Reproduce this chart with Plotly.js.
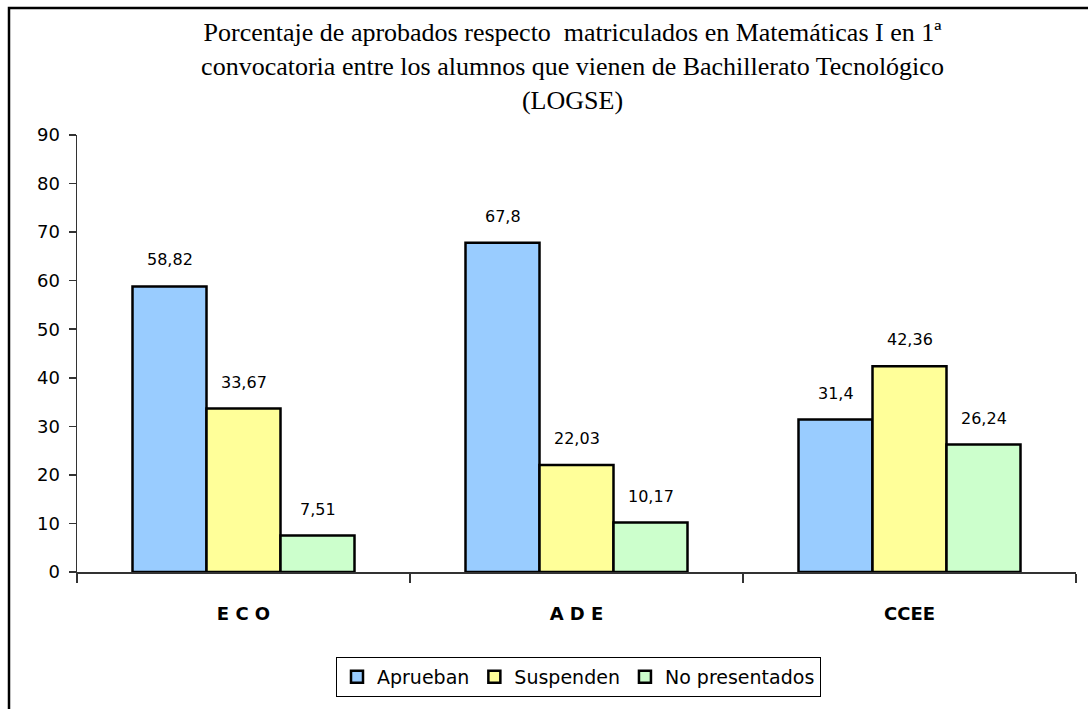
<!DOCTYPE html>
<html>
<head>
<meta charset="utf-8">
<script src="https://cdn.plot.ly/plotly-3.0.1.min.js"></script>
<style>html,body{margin:0;padding:0;background:#fff;}#chart{width:1088px;height:709px;}</style>
</head>
<body>
<div id="chart"></div>
<script>
var categories = ["E C O", "A D E", "CCEE"];
var seriesNames = ["Aprueban", "Suspenden", "No presentados"];
var aprueban = [58.82, 67.8, 31.4];
var suspenden = [33.67, 22.03, 42.36];
var noPresentados = [7.51, 10.17, 26.24];
var yTicks = [0, 10, 20, 30, 40, 50, 60, 70, 80, 90];

var seriesValues = [aprueban, suspenden, noPresentados];
var colors = ["#99CCFF", "#FFFF99", "#CCFFCC"];

var W = 1088, H = 709;
var L = 77, R = 12, T = 135, B = 137;
var plotW = W - L - R, plotH = H - T - B;
function px2x(p) { return (p - L) / plotW; }
function py2y(p) { return (H - B - p) / plotH; }

var traces = seriesValues.map(function (vals, i) {
  return {
    type: "bar",
    name: seriesNames[i],
    x: categories,
    y: vals,
    marker: { color: colors[i], line: { color: "#000", width: 2.5 } },
    hoverinfo: "none"
  };
});

var barPx = plotW / categories.length * (1 - 1/3) / seriesValues.length;
var annotations = [];
seriesValues.forEach(function (vals, i) {
  vals.forEach(function (v, j) {
    annotations.push({
      x: categories[j], y: v, xref: "x", yref: "y",
      text: String(v).replace(".", ","),
      showarrow: false, xanchor: "center", yanchor: "bottom",
      xshift: (i - 1) * barPx, yshift: 15,
      font: { family: "DejaVu Sans", size: 16, color: "#000" }
    });
  });
});

var layout = {
  width: W, height: H,
  margin: { l: L, r: R, t: T, b: B },
  paper_bgcolor: "#fff", plot_bgcolor: "#fff",
  barmode: "group", bargap: 1/3, bargroupgap: 0,
  showlegend: true,
  title: {
    text: "Porcentaje de aprobados respecto  matriculados en Matemáticas I en 1ª<br>convocatoria entre los alumnos que vienen de Bachillerato Tecnológico<br>(LOGSE)",
    font: { family: "Liberation Serif", size: 26, color: "#000" },
    xref: "paper", x: px2x(572.5), xanchor: "center",
    yref: "container", y: 1 - 41 / H, yanchor: "top"
  },
  xaxis: {
    type: "category",
    showline: true, linecolor: "#333", linewidth: 1.5,
    ticks: "outside", tickson: "boundaries", ticklen: 9, tickcolor: "#333", tickwidth: 1.5,
    ticklabelstandoff: 25,
    tickfont: { family: "DejaVu Sans", size: 18, color: "#000", weight: "bold" },
    showgrid: false, zeroline: false, fixedrange: true
  },
  yaxis: {
    range: [0, 90], tickvals: yTicks, ticktext: yTicks.map(String),
    showline: true, linecolor: "#333", linewidth: 1.5,
    ticks: "outside", ticklen: 7, tickcolor: "#333", tickwidth: 1.5,
    ticklabelstandoff: 5,
    tickfont: { family: "DejaVu Sans", size: 18, color: "#000" },
    showgrid: false, zeroline: false, fixedrange: true
  },
  legend: {
    orientation: "h",
    x: px2x(578.5), xanchor: "center",
    y: py2y(657), yanchor: "top",
    bordercolor: "#000", borderwidth: 1,
    font: { family: "DejaVu Sans", size: 19, color: "#000" },
    itemclick: false, itemdoubleclick: false, tracegroupgap: 0
  },
  annotations: annotations,
  shapes: [{
    type: "rect", xref: "paper", yref: "paper",
    x0: px2x(9), x1: px2x(1130), y0: py2y(740), y1: py2y(8),
    line: { color: "#000", width: 2.5 }, fillcolor: "rgba(0,0,0,0)", layer: "above"
  }]
};

Plotly.newPlot("chart", traces, layout, { displayModeBar: false, staticPlot: true });
</script>
</body>
</html>
